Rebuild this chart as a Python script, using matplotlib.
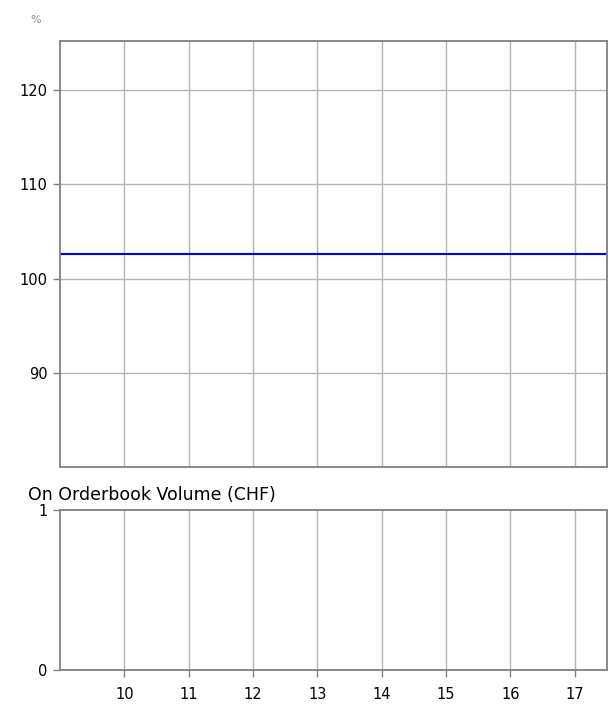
import matplotlib
matplotlib.use("Agg")
import matplotlib.pyplot as plt

# intraday price (% of nominal) and volume
hours = [9.0, 17.5]
price = [102.65, 102.65]
x_ticks = [10, 11, 12, 13, 14, 15, 16, 17]
price_ticks = [90, 100, 110, 120]
vol_ticks = [0, 1]

plt.rcParams['font.family'] = ['DejaVu Sans']

fig = plt.figure(figsize=(6.09, 7.04), dpi=100)
ax1 = fig.add_axes([0.0985, 0.3366, 0.898, 0.605])
ax2 = fig.add_axes([0.0985, 0.0483, 0.898, 0.2273])

grid_col = '#b4b4b4'
spine_col = '#808080'

for ax in (ax1, ax2):
    ax.set_xlim(9.0, 17.5)
    ax.set_xticks(x_ticks)
    ax.grid(True, color=grid_col, linewidth=1.0)
    ax.set_axisbelow(True)
    for s in ax.spines.values():
        s.set_color(spine_col)
        s.set_linewidth(1.3)
    ax.tick_params(colors=spine_col, labelcolor='black', labelsize=10.5,
                   length=5, width=1, direction='out', pad=4)

ax1.plot(hours, price, color='#0000ff', linewidth=1.5)
ax1.set_ylim(80, 125.2)
ax1.set_yticks(price_ticks)
ax1.tick_params(axis='x', length=0, labelbottom=False)
ax1.text(-0.045, 1.05, '%', transform=ax1.transAxes, fontsize=8,
         color='#909090', ha='center', va='center')

ax2.set_ylim(0, 1)
ax2.set_yticks(vol_ticks)
ax2.grid(False, axis='y')
ax2.tick_params(axis='x', pad=7)
ax2.text(-0.058, 1.035, 'On Orderbook Volume (CHF)', transform=ax2.transAxes,
         fontsize=12.5, ha='left', va='bottom')

fig.savefig('out.png', dpi=100)
